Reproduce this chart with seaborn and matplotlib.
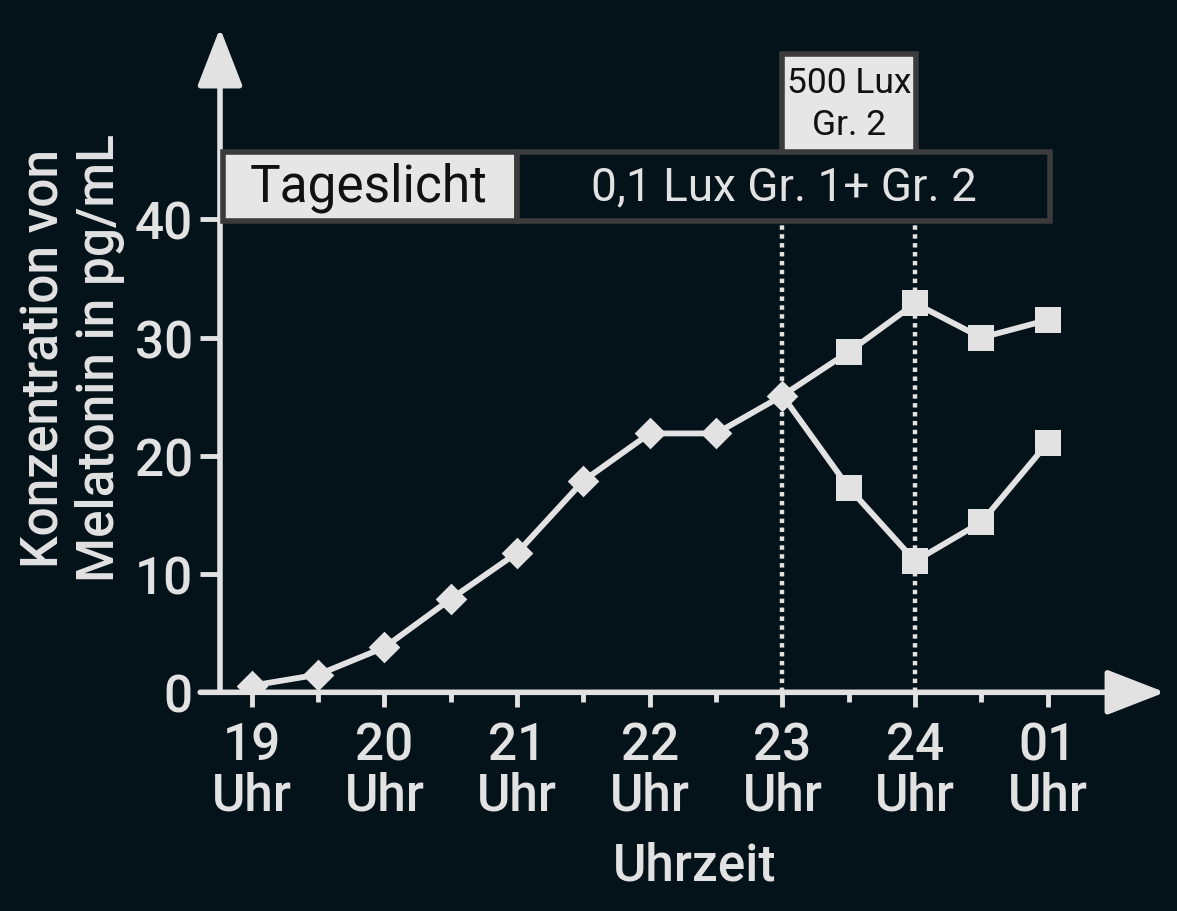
import numpy as np
import pandas as pd
import matplotlib
matplotlib.use("Agg")
import matplotlib.pyplot as plt
from matplotlib.patches import Rectangle
import seaborn as sns

# --- data ----------------------------------------------------------------
zeit_basis = [19, 19.5, 20, 20.5, 21, 21.5, 22, 22.5, 23]
konz_basis = [0.56, 1.5, 3.8, 7.9, 11.8, 17.9, 21.9, 21.9, 25.1]
zeit_nach = [23.5, 24, 24.5, 25]
konz_gr1 = [28.8, 32.9, 30.0, 31.5]     # 0,1 Lux
konz_gr2 = [17.3, 11.1, 14.4, 21.1]     # 500 Lux
stunden = [19, 20, 21, 22, 23, 24, 25]
stunden_labels = ["19\nUhr", "20\nUhr", "21\nUhr", "22\nUhr", "23\nUhr", "24\nUhr", "01\nUhr"]
y_ticks = [0, 10, 20, 30, 40]

BG = "#04121a"
FG = "#e2e2e2"
BOX_EDGE = "#3b3b3b"

sns.set_style("ticks")
plt.rcParams["font.family"] = ["Roboto", "DejaVu Sans"]
plt.rcParams["font.weight"] = "medium"
plt.rcParams["text.color"] = FG

# long tables for seaborn
linien = pd.concat([
    pd.DataFrame({"zeit": zeit_basis, "konz": konz_basis, "gruppe": "basis"}),
    pd.DataFrame({"zeit": [zeit_basis[-1]] + zeit_nach,
                  "konz": [konz_basis[-1]] + konz_gr1, "gruppe": "gr1"}),
    pd.DataFrame({"zeit": [zeit_basis[-1]] + zeit_nach,
                  "konz": [konz_basis[-1]] + konz_gr2, "gruppe": "gr2"}),
], ignore_index=True)

punkte = pd.concat([
    pd.DataFrame({"zeit": zeit_basis, "konz": konz_basis, "form": "vor"}),
    pd.DataFrame({"zeit": zeit_nach * 2, "konz": konz_gr1 + konz_gr2, "form": "nach"}),
], ignore_index=True)

fig = plt.figure(figsize=(11.77, 9.12), dpi=100, facecolor=BG)
ax = fig.add_axes([220 / 1177, (912 - 693.3) / 912, (1165 - 220) / 1177, (693.3 - 33) / 912])
ax.set_facecolor(BG)

# dotted markers for light change
for xv in (23, 24):
    ax.plot([xv, xv], [0, 39.9], color=FG, lw=3.2, ls=(0, (1, 1)), zorder=2)

sns.lineplot(data=linien, x="zeit", y="konz", units="gruppe", estimator=None,
             sort=False, color=FG, lw=4.2, ax=ax, zorder=3)
sns.scatterplot(data=punkte[punkte.form == "vor"], x="zeit", y="konz", marker="D",
                s=260, color=FG, linewidth=0, ax=ax, zorder=4)
sns.scatterplot(data=punkte[punkte.form == "nach"], x="zeit", y="konz", marker="s",
                s=340, color=FG, linewidth=0, ax=ax, zorder=4)

ax.set_xlim(18.76, 25.884)
ax.set_ylim(0, 55.86)

# condition boxes
ax.add_patch(Rectangle((18.78, 39.9), 21 - 18.78, 45.7 - 39.9, facecolor="#e6e6e6",
                       edgecolor=BOX_EDGE, lw=4, zorder=5, clip_on=False))
ax.add_patch(Rectangle((21, 39.9), 25.02 - 21, 45.7 - 39.9, facecolor=BG,
                       edgecolor=BOX_EDGE, lw=4, zorder=5, clip_on=False))
ax.add_patch(Rectangle((23.0, 45.7), 1.01, 54.0 - 45.7, facecolor="#e6e6e6",
                       edgecolor=BOX_EDGE, lw=4, zorder=5, clip_on=False))
ax.text(19.88, 42.8, "Tageslicht", color="#111111", fontsize=37, fontweight="regular",
        ha="center", va="center", zorder=6)
ax.text(23.01, 42.8, "0,1 Lux Gr. 1+ Gr. 2", color=FG, fontsize=33, fontweight="regular",
        ha="center", va="center", zorder=6)
ax.text(23.5, 49.8, "500 Lux\nGr. 2", color="#111111", fontsize=25.5, fontweight="regular",
        ha="center", va="center", linespacing=1.32, zorder=6)

# axes with arrow heads
for s in ax.spines.values():
    s.set_visible(False)
ax.annotate("", xy=(1.0, 0), xytext=(-0.021, 0), xycoords="axes fraction",
            arrowprops=dict(arrowstyle="-|>,head_length=0.9,head_width=0.35",
                            lw=4, color=FG, shrinkA=0, shrinkB=0, mutation_scale=40),
            annotation_clip=False)
ax.annotate("", xy=(0, 1.006), xytext=(0, 0), xycoords="axes fraction",
            arrowprops=dict(arrowstyle="-|>,head_length=0.9,head_width=0.35",
                            lw=4, color=FG, shrinkA=0, shrinkB=0, mutation_scale=40),
            annotation_clip=False)

ax.set_xticks(stunden, stunden_labels)
ax.set_xticks([h + 0.5 for h in stunden[:-1]], minor=True)
ax.set_yticks(y_ticks)
ax.tick_params(axis="x", which="major", length=11, width=3.5, color=FG,
               labelcolor=FG, labelsize=37, pad=9)
ax.tick_params(axis="x", which="minor", length=7, width=3.5, color=FG)
ax.tick_params(axis="y", length=14.5, width=3.5, color=FG, labelcolor=FG,
               labelsize=37, pad=5)
for lab in ax.get_xticklabels():
    lab.set_linespacing(1.0)

ax.set_xlabel("")
ax.set_ylabel("")
fig.text(72 / 1177, 1 - 358 / 912, "Konzentration von\nMelatonin in pg/mL", rotation=90,
         fontsize=37, color=FG, ha="center", va="center", linespacing=1.15)
fig.text(695 / 1177, 1 - 867 / 912, "Uhrzeit", fontsize=37, color=FG,
         ha="center", va="center")

fig.savefig("out.png", dpi=100, facecolor=BG)
